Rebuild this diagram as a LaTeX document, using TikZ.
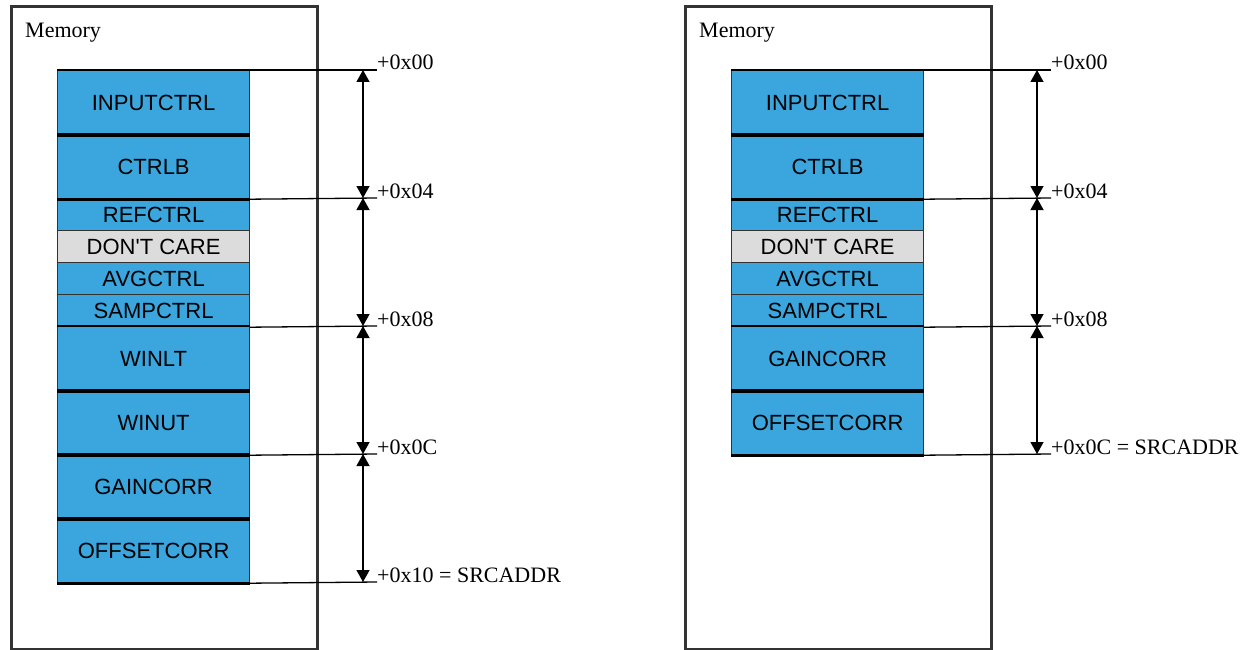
\documentclass[tikz,border=0pt]{standalone}
\usepackage{fontspec}
\setmainfont{Liberation Serif}
\newfontfamily\arialfont[Ligatures=TeXOff]{Liberation Sans}
\usetikzlibrary{arrows.meta}
\definecolor{regblue}{HTML}{3BA6DE}
\definecolor{dcgray}{HTML}{DCDCDC}
\definecolor{edgegray}{HTML}{333333}
\begin{document}
\begin{tikzpicture}[x=1pt,y=-1pt,
  membox/.style={draw=edgegray, line width=3pt, fill=white, anchor=north west,
    minimum width=306pt, minimum height=643pt, inner sep=0pt},
  memlabel/.style={anchor=base west, inner sep=0pt, font=\fontsize{22}{26}\selectfont},
  reg/.style={draw=edgegray, line width=1.2pt, fill=regblue, anchor=north west,
    minimum width=192pt, minimum height=#1, inner sep=0pt,
    font=\arialfont\fontsize{22}{26}\selectfont},
  wordline/.style={draw=black, line width=2.6pt},
  tickline/.style={draw=black, line width=1.3pt},
  dimline/.style={draw=black, line width=1.3pt,
    {Triangle[width=13pt,length=12pt]}-{Triangle[width=13pt,length=12pt]}},
  offlabel/.style={anchor=base west, inner sep=0pt, font=\fontsize{22}{26}\selectfont}
]
\useasboundingbox (0,0) rectangle (1252,650);

% ---------------- Left panel ----------------
\node[membox] (memL) at (10,5) {};
\node[memlabel] (memLt) at (25,38) {Memory};

\node[reg=64pt] (L-inputctrl) at (57,70) {INPUTCTRL};
\node[reg=64pt] (L-ctrlb) at (57,134) {CTRLB};
\node[reg=32pt] (L-refctrl) at (57,198) {REFCTRL};
\node[reg=32pt, fill=dcgray] (L-dontcare) at (57,230) {DON'T CARE};
\node[reg=32pt] (L-avgctrl) at (57,262) {AVGCTRL};
\node[reg=32pt] (L-sampctrl) at (57,294) {SAMPCTRL};
\node[reg=64pt] (L-winlt) at (57,326) {WINLT};
\node[reg=64pt] (L-winut) at (57,390) {WINUT};
\node[reg=64pt] (L-gaincorr) at (57,454) {GAINCORR};
\node[reg=64pt] (L-offsetcorr) at (57,518) {OFFSETCORR};

\foreach \r in {L-inputctrl,L-ctrlb,L-winlt,L-winut,L-gaincorr,L-offsetcorr}{
  \draw[wordline] (\r.north west) -- (\r.north east) (\r.south west) -- (\r.south east);
}

\coordinate (L-t0) at (377,70);
\coordinate (L-t1) at (377,198);
\coordinate (L-t2) at (377,326);
\coordinate (L-t3) at (377,454);
\coordinate (L-t4) at (377,582);
\coordinate (L-a0) at (363,70);
\coordinate (L-a1) at (363,198);
\coordinate (L-a2) at (363,326);
\coordinate (L-a3) at (363,454);
\coordinate (L-a4) at (363,582);

\draw[tickline] (L-inputctrl.north east) -- (L-t0);
\draw[tickline] (L-ctrlb.south east) -- (L-t1);
\draw[tickline] (L-sampctrl.south east) -- (L-t2);
\draw[tickline] (L-winut.south east) -- (L-t3);
\draw[tickline] (L-offsetcorr.south east) -- (L-t4);

\draw[dimline] (L-a0) -- (L-a1);
\draw[dimline] (L-a1) -- (L-a2);
\draw[dimline] (L-a2) -- (L-a3);
\draw[dimline] (L-a3) -- (L-a4);

\node[offlabel] (L-l0) at (L-t0) {+0x00};
\node[offlabel] (L-l1) at (L-t1) {+0x04};
\node[offlabel] (L-l2) at (L-t2) {+0x08};
\node[offlabel] (L-l3) at (L-t3) {+0x0C};
\node[offlabel] (L-l4) at (L-t4) {+0x10 = SRCADDR};

% ---------------- Right panel ----------------
\node[membox] (memR) at (684,5) {};
\node[memlabel] (memRt) at (699,38) {Memory};

\node[reg=64pt] (R-inputctrl) at (731,70) {INPUTCTRL};
\node[reg=64pt] (R-ctrlb) at (731,134) {CTRLB};
\node[reg=32pt] (R-refctrl) at (731,198) {REFCTRL};
\node[reg=32pt, fill=dcgray] (R-dontcare) at (731,230) {DON'T CARE};
\node[reg=32pt] (R-avgctrl) at (731,262) {AVGCTRL};
\node[reg=32pt] (R-sampctrl) at (731,294) {SAMPCTRL};
\node[reg=64pt] (R-gaincorr) at (731,326) {GAINCORR};
\node[reg=64pt] (R-offsetcorr) at (731,390) {OFFSETCORR};

\foreach \r in {R-inputctrl,R-ctrlb,R-gaincorr,R-offsetcorr}{
  \draw[wordline] (\r.north west) -- (\r.north east) (\r.south west) -- (\r.south east);
}

\coordinate (R-t0) at (1051,70);
\coordinate (R-t1) at (1051,198);
\coordinate (R-t2) at (1051,326);
\coordinate (R-t3) at (1051,454);
\coordinate (R-a0) at (1037,70);
\coordinate (R-a1) at (1037,198);
\coordinate (R-a2) at (1037,326);
\coordinate (R-a3) at (1037,454);

\draw[tickline] (R-inputctrl.north east) -- (R-t0);
\draw[tickline] (R-ctrlb.south east) -- (R-t1);
\draw[tickline] (R-sampctrl.south east) -- (R-t2);
\draw[tickline] (R-offsetcorr.south east) -- (R-t3);

\draw[dimline] (R-a0) -- (R-a1);
\draw[dimline] (R-a1) -- (R-a2);
\draw[dimline] (R-a2) -- (R-a3);

\node[offlabel] (R-l0) at (R-t0) {+0x00};
\node[offlabel] (R-l1) at (R-t1) {+0x04};
\node[offlabel] (R-l2) at (R-t2) {+0x08};
\node[offlabel] (R-l3) at (R-t3) {+0x0C = SRCADDR};
\end{tikzpicture}
\end{document}
